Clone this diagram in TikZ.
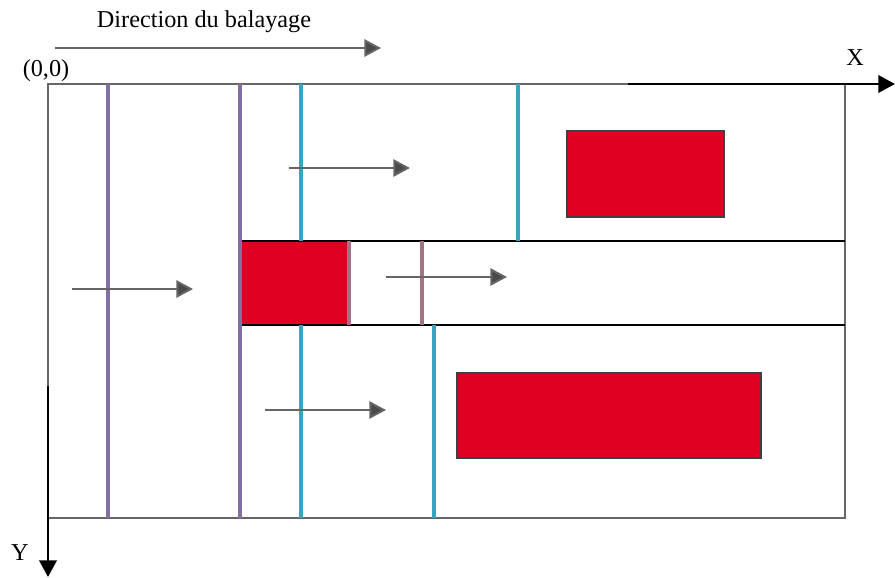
\documentclass[tikz,border=0pt]{standalone}
\usepackage{fontspec}
\setmainfont{Liberation Serif}
\usetikzlibrary{arrows.meta,positioning}

\definecolor{scanpurple}{RGB}{132,112,160}
\definecolor{scanteal}{RGB}{56,164,192}
\definecolor{scanmauve}{RGB}{160,116,132}
\definecolor{obstred}{RGB}{224,0,34}
\definecolor{framegray}{RGB}{102,102,102}
\definecolor{arrowgray}{RGB}{74,74,74}

\begin{document}
\begin{tikzpicture}[
  x=0.03cm, y=-0.03cm,
  frame/.style={draw=framegray, line width=1.5pt},
  band/.style={draw=black, line width=1.3pt},
  axis/.style={draw=black, line width=2.2pt, -{Triangle[length=0.5cm 0, width=0.52cm 0]}},
  sweep/.style={draw=arrowgray!85, line width=1.7pt, -{Triangle[length=0.5cm 0, width=0.52cm 0, fill=arrowgray]}},
  purpleline/.style={draw=scanpurple, line width=3.9pt},
  tealline/.style={draw=scanteal, line width=3.9pt},
  mauveline/.style={draw=scanmauve, line width=3.9pt},
  obstacle/.style={fill=obstred, draw=black!75, line width=1.1pt},
  label/.style={font=\fontsize{20.7}{24}\selectfont, inner sep=0pt}
]
\useasboundingbox (0,0) rectangle (895,577);

% Workspace frame
\draw[frame] (48,84) rectangle (845,518);
\draw[band] (240,241) -- (845,241);
\draw[band] (240,325) -- (845,325);

% Obstacles
\draw[obstacle] (567,131) rectangle (724,217);
\draw[obstacle] (457,373) rectangle (761,458);
\fill[obstred] (242,242) rectangle (347,324);

% Sweep lines
\foreach \x in {108,240} {
  \draw[purpleline] (\x,84) -- (\x,518);
}
\draw[tealline] (301,84) -- (301,241);
\draw[tealline] (301,325) -- (301,518);
\draw[tealline] (518,84) -- (518,241);
\draw[tealline] (434,325) -- (434,518);
\foreach \x in {349,422} {
  \draw[mauveline] (\x,241) -- (\x,325);
}

% Axes
\coordinate (origin) at (48,84);
\coordinate (xstart) at (628,84);
\coordinate (xend) at (895,84);
\coordinate (ystart) at (48,386);
\coordinate (yend) at (48,577);
\draw[axis] (xstart) -- (xend);
\draw[axis] (ystart) -- (yend);
\node[label] (xlab) at (855,58) {X};
\node[label] (ylab) at (20,553) {Y};
\node[label] (orig) at (46,71) {(0,0)};

% Direction arrows
\node[label] (title) at (204,22) {Direction du balayage};
\coordinate (d1) at (55,48);
\coordinate (d2) at (381,48);
\draw[sweep] (d1) -- (d2);
\coordinate (a1) at (289,168);
\coordinate (a2) at (410,168);
\draw[sweep] (a1) -- (a2);
\coordinate (b1) at (72,289);
\coordinate (b2) at (193,289);
\draw[sweep] (b1) -- (b2);
\coordinate (c1) at (386,277);
\coordinate (c2) at (507,277);
\draw[sweep] (c1) -- (c2);
\coordinate (e1) at (265,410);
\coordinate (e2) at (386,410);
\draw[sweep] (e1) -- (e2);

\end{tikzpicture}
\end{document}
